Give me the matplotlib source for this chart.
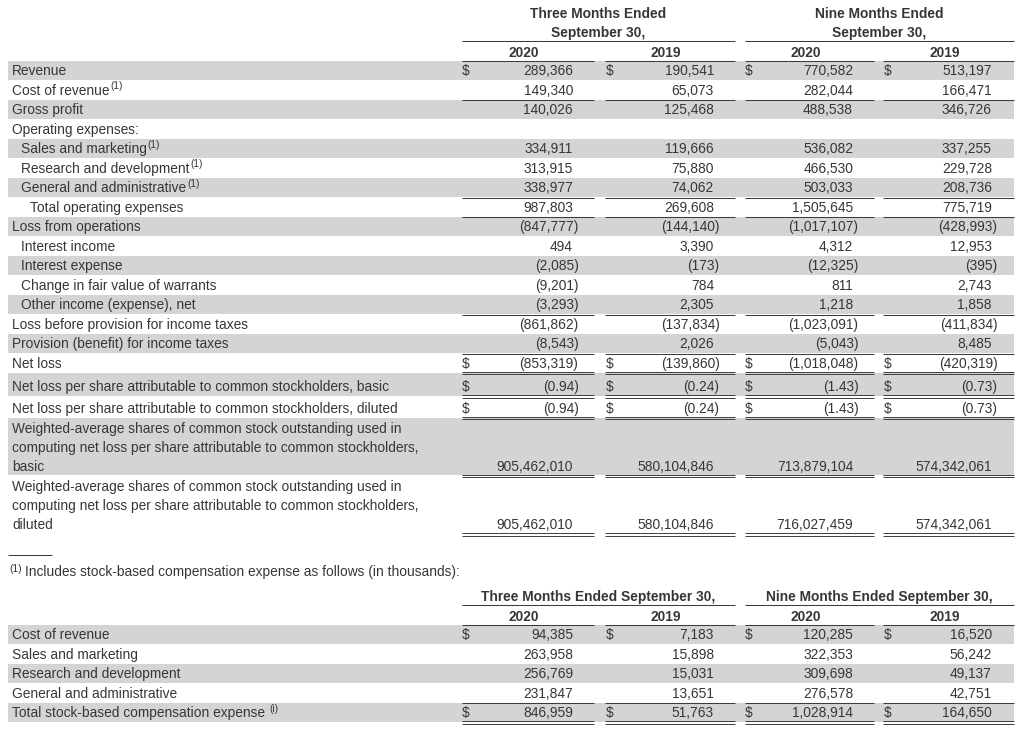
import matplotlib
matplotlib.use("Agg")
import matplotlib.pyplot as plt
from matplotlib.patches import Rectangle

# ---------------- data ----------------
period_labels = ["Three Months Ended\nSeptember 30,", "Nine Months Ended\nSeptember 30,"]
year_labels = ["2020", "2019", "2020", "2019"]

row_labels = [
    "Revenue", "Cost of revenue", "Gross profit", "Operating expenses:",
    "Sales and marketing", "Research and development", "General and administrative",
    "Total operating expenses", "Loss from operations", "Interest income",
    "Interest expense", "Change in fair value of warrants", "Other income (expense), net",
    "Loss before provision for income taxes", "Provision (benefit) for income taxes",
    "Net loss",
    "Net loss per share attributable to common stockholders, basic",
    "Net loss per share attributable to common stockholders, diluted",
    "Weighted-average shares of common stock outstanding used in\ncomputing net loss per share attributable to common stockholders,\nbasic",
    "Weighted-average shares of common stock outstanding used in\ncomputing net loss per share attributable to common stockholders,\ndiluted",
]
footnoted_rows = [1, 4, 5, 6]
dollar_rows = [0, 15, 16, 17]

three_2020 = [289366, 149340, 140026, None, 334911, 313915, 338977, 987803, -847777, 494,
              -2085, -9201, -3293, -861862, -8543, -853319, -0.94, -0.94, 905462010, 905462010]
three_2019 = [190541, 65073, 125468, None, 119666, 75880, 74062, 269608, -144140, 3390,
              -173, 784, 2305, -137834, 2026, -139860, -0.24, -0.24, 580104846, 580104846]
nine_2020 = [770582, 282044, 488538, None, 536082, 466530, 503033, 1505645, -1017107, 4312,
             -12325, 811, 1218, -1023091, -5043, -1018048, -1.43, -1.43, 713879104, 716027459]
nine_2019 = [513197, 166471, 346726, None, 337255, 229728, 208736, 775719, -428993, 12953,
             -395, 2743, 1858, -411834, 8485, -420319, -0.73, -0.73, 574342061, 574342061]

footnote_text = "Includes stock-based compensation expense as follows (in thousands):"
sbc_period_labels = ["Three Months Ended September 30,", "Nine Months Ended September 30,"]
sbc_labels = ["Cost of revenue", "Sales and marketing", "Research and development",
              "General and administrative", "Total stock-based compensation expense"]
sbc_dollar_rows = [0, 4]
sbc_three_2020 = [94385, 263958, 256769, 231847, 846959]
sbc_three_2019 = [7183, 15898, 15031, 13651, 51763]
sbc_nine_2020 = [120285, 322353, 309698, 276578, 1028914]
sbc_nine_2019 = [16520, 56242, 49137, 42751, 164650]

# ---------------- layout / style ----------------
FONT = "Liberation Sans"
FS = 9.9
TXT = "#363636"
SHADE = "#d4d4d4"
LINE = "#3c3c3c"

indent_level = [0, 0, 0, 0, 1, 1, 1, 2, 0, 1, 1, 1, 1, 0, 0, 0, 0, 0, 0, 0]
indent_px = [12, 21, 30]
main_heights = [19.5] * 16 + [23.5, 21.5, 58.0, 58.5]
main_top = 61.0
single_under = [1, 6, 7, 12, 14]
double_under = [15, 16, 17, 18, 19]

dollar_x = [462, 606, 745, 884]
right_x = [573, 714, 853, 992]
col_span = [(462, 594), (605, 735), (745, 874), (883, 1014)]
group_span = [(462, 735), (745, 1014)]
shade_x0, shade_x1 = 8, 1014

fig = plt.figure(figsize=(10.24, 7.32), dpi=100)
ax = fig.add_axes([0, 0, 1, 1])
ax.set_xlim(0, 1024)
ax.set_ylim(732, 0)
ax.axis("off")
renderer = fig.canvas.get_renderer()


def fmt(v):
    if v is None:
        return ""
    if isinstance(v, float):
        s = f"{abs(v):.2f}"
    else:
        s = f"{abs(v):,}"
    return f"({s})" if v < 0 else s


def put(x, y, s, ha="left", weight="normal", size=FS):
    return ax.text(x, y, s, ha=ha, va="baseline", fontsize=size, family=FONT,
                   color=TXT, fontweight=weight)


def hline(x0, x1, y, lw=0.75):
    ax.plot([x0, x1], [y, y], color=LINE, lw=lw, solid_capstyle="butt")


def dline(x0, x1, y):
    hline(x0, x1, y - 1.2, lw=0.7)
    hline(x0, x1, y + 1.2, lw=0.7)


def put_value(ci, base, v):
    s = fmt(v)
    if not s:
        return
    if s.endswith(")"):
        put(right_x[ci] + 5.5, base, s, ha="right")
    else:
        put(right_x[ci], base, s, ha="right")


def superscript(t, s, base):
    bb = t.get_window_extent(renderer)
    put(bb.x1 + 1, base - 5.5, s, size=7.2)


# ---------- main table header ----------
for gi, lab in enumerate(period_labels):
    x0, x1 = group_span[gi]
    l1, l2 = lab.split("\n")
    put((x0 + x1) / 2, 18, l1, ha="center", weight="bold")
    put((x0 + x1) / 2, 37, l2, ha="center", weight="bold")
    hline(x0, x1, 41)
for ci, yl in enumerate(year_labels):
    x0, x1 = col_span[ci]
    put((x0 + x1) / 2 - 4, 57, yl, ha="center", weight="bold")
    hline(x0, x1, 61)

# ---------- main table rows ----------
cols = [three_2020, three_2019, nine_2020, nine_2019]
top = main_top
for ri, lab in enumerate(row_labels):
    h = main_heights[ri]
    bottom = top + h
    if ri % 2 == 0:
        ax.add_patch(Rectangle((shade_x0, top), shade_x1 - shade_x0, h - 1.0,
                               facecolor=SHADE, edgecolor="none", zorder=0))
    base = bottom - 5.2
    lines = lab.split("\n")
    n = len(lines)
    x = indent_px[indent_level[ri]]
    for li, ln in enumerate(lines):
        t = put(x, base - 19 * (n - 1 - li), ln)
    if ri in footnoted_rows:
        superscript(t, "(1)", base)
    for ci, col in enumerate(cols):
        if ri in dollar_rows:
            put(dollar_x[ci], base, "$")
        put_value(ci, base, col[ri])
        x0, x1 = col_span[ci]
        if ri in single_under:
            hline(x0, x1, bottom)
        if ri in double_under:
            dline(x0, x1, bottom)
    top = bottom

# ---------- footnote ----------
hline(8, 52, 555)
put(9, 572, "(1)", size=7.4)
put(25, 576, footnote_text)

# ---------- stock-based compensation table ----------
for gi, lab in enumerate(sbc_period_labels):
    x0, x1 = group_span[gi]
    put((x0 + x1) / 2, 601, lab, ha="center", weight="bold")
    hline(x0, x1, 605)
for ci, yl in enumerate(year_labels):
    x0, x1 = col_span[ci]
    put((x0 + x1) / 2 - 4, 621, yl, ha="center", weight="bold")
    hline(x0, x1, 625)

sbc_cols = [sbc_three_2020, sbc_three_2019, sbc_nine_2020, sbc_nine_2019]
top = 625.0
for ri, lab in enumerate(sbc_labels):
    h = 19.5
    bottom = top + h
    if ri % 2 == 0:
        ax.add_patch(Rectangle((shade_x0, top), shade_x1 - shade_x0, h - 1.0,
                               facecolor=SHADE, edgecolor="none", zorder=0))
    base = bottom - 5.2
    t = put(12, base, lab)
    if ri == len(sbc_labels) - 1:
        bb = t.get_window_extent(renderer)
        put(bb.x1 + 4, base - 5.5, "(i)", size=7.2)
    for ci, col in enumerate(sbc_cols):
        if ri in sbc_dollar_rows:
            put(dollar_x[ci], base, "$")
        put_value(ci, base, col[ri])
        x0, x1 = col_span[ci]
        if ri == 3:
            hline(x0, x1, bottom)
        if ri == 4:
            dline(x0, x1, bottom)
    top = bottom

fig.savefig("out.png", dpi=100)
